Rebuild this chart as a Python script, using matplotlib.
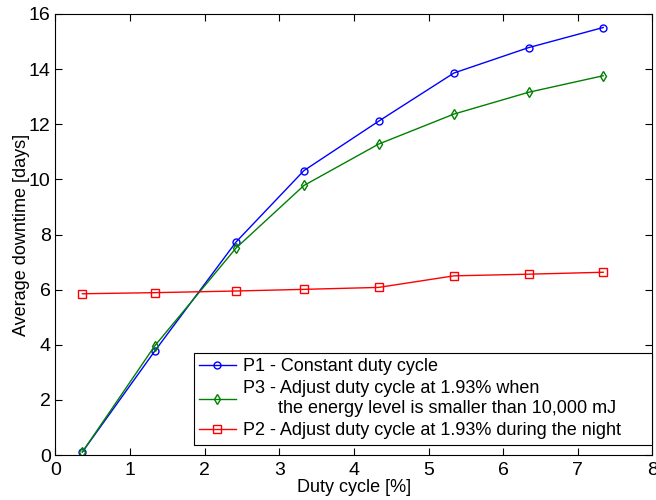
import numpy as np
import matplotlib
matplotlib.use("Agg")
import matplotlib.pyplot as plt

plt.rcParams['font.family'] = ['Liberation Sans', 'DejaVu Sans']

duty = [0.36, 1.33, 2.42, 3.33, 4.33, 5.34, 6.34, 7.34]
p1 = [0.11, 3.77, 7.73, 10.32, 12.11, 13.86, 14.78, 15.51]
p3 = [0.11, 3.96, 7.51, 9.78, 11.28, 12.37, 13.16, 13.76]
p2 = [5.85, 5.89, 5.95, 6.01, 6.08, 6.50, 6.56, 6.63]

labels = ['P1 - Constant duty cycle',
          'P3 - Adjust duty cycle at 1.93% when\n       the energy level is smaller than 10,000 mJ',
          'P2 - Adjust duty cycle at 1.93% during the night']

fig = plt.figure(figsize=(6.56, 5.0), dpi=100)
ax = fig.add_axes([0.0846, 0.09, 0.91, 0.882])

ax.plot(duty, p1, color='#0000ff', marker='o', mfc='none', ms=5, lw=1.0, label=labels[0])
ax.plot(duty, p3, color='#008000', marker='d', mfc='none', ms=5, lw=1.0, label=labels[1])
ax.plot(duty, p2, color='#ff0000', marker='s', mfc='none', ms=5.5, lw=1.0, label=labels[2])

ax.set_xlim(0, 8)
ax.set_ylim(0, 16)
ax.set_xticks(range(0, 9))
ax.set_yticks(range(0, 17, 2))
ax.tick_params(direction='in', top=True, right=True, labelsize=14, length=5)
ax.tick_params(axis='x', pad=5)
for s in ax.spines.values():
    s.set_linewidth(0.8)

ax.set_xlabel('Duty cycle [%]', fontsize=13, labelpad=0)
ax.set_ylabel('Average downtime [days]', fontsize=13, labelpad=-1)

leg = ax.legend(loc='lower left', bbox_to_anchor=(0.232, 0.023, 0.767, 0.2), mode='expand',
                fontsize=13, fancybox=False, edgecolor='black',
                framealpha=1, handlelength=2.0, handletextpad=0.4, borderpad=0.3,
                labelspacing=0.3, borderaxespad=0)
leg.get_frame().set_linewidth(0.8)

fig.savefig('out.png', dpi=100)
